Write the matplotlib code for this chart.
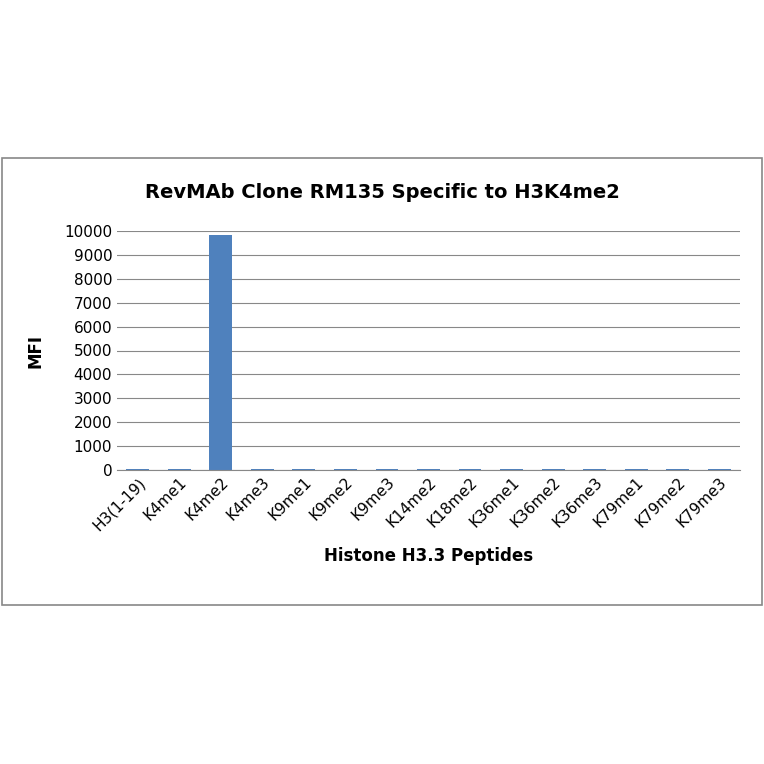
import matplotlib.pyplot as plt
from matplotlib.patches import Rectangle

peptides = ["H3(1-19)", "K4me1", "K4me2", "K4me3", "K9me1", "K9me2", "K9me3",
            "K14me2", "K18me2", "K36me1", "K36me2", "K36me3", "K79me1", "K79me2", "K79me3"]
mfi = [40, 35, 9850, 40, 35, 35, 30, 35, 35, 30, 30, 35, 35, 35, 40]

fig = plt.figure(figsize=(7.64, 7.64), dpi=100)
fig.patches.append(Rectangle((2 / 764, 1 - 605 / 764), 760 / 764, 447 / 764,
                             transform=fig.transFigure, fill=False,
                             edgecolor="#888888", linewidth=1.2))

ax = fig.add_axes([117 / 764, 1 - 470 / 764, 623 / 764, 239 / 764])
ax.bar(range(len(peptides)), mfi, width=0.55, color="#4F81BD")
ax.set_xlim(-0.5, len(peptides) - 0.5)
ax.set_ylim(0, 10000)
ax.set_yticks(range(0, 10001, 1000))
ax.yaxis.grid(True, color="#888888", linewidth=0.8)
ax.set_axisbelow(True)
for s in ["top", "right", "left"]:
    ax.spines[s].set_visible(False)
ax.spines["bottom"].set_color("#888888")
ax.tick_params(axis="y", length=0, labelsize=11)
ax.tick_params(axis="x", length=0, labelsize=11)
ax.set_xticks(range(len(peptides)))
ax.set_xticklabels(peptides, rotation=45, ha="right", rotation_mode="anchor")
ax.set_ylabel("MFI", fontsize=12, fontweight="bold", labelpad=14)
ax.set_xlabel("Histone H3.3 Peptides", fontsize=12, fontweight="bold", labelpad=10)
fig.text(0.5, 1 - 192 / 764, "RevMAb Clone RM135 Specific to H3K4me2",
         ha="center", va="center", fontsize=14, fontweight="bold")

fig.savefig("out.png", dpi=100)
